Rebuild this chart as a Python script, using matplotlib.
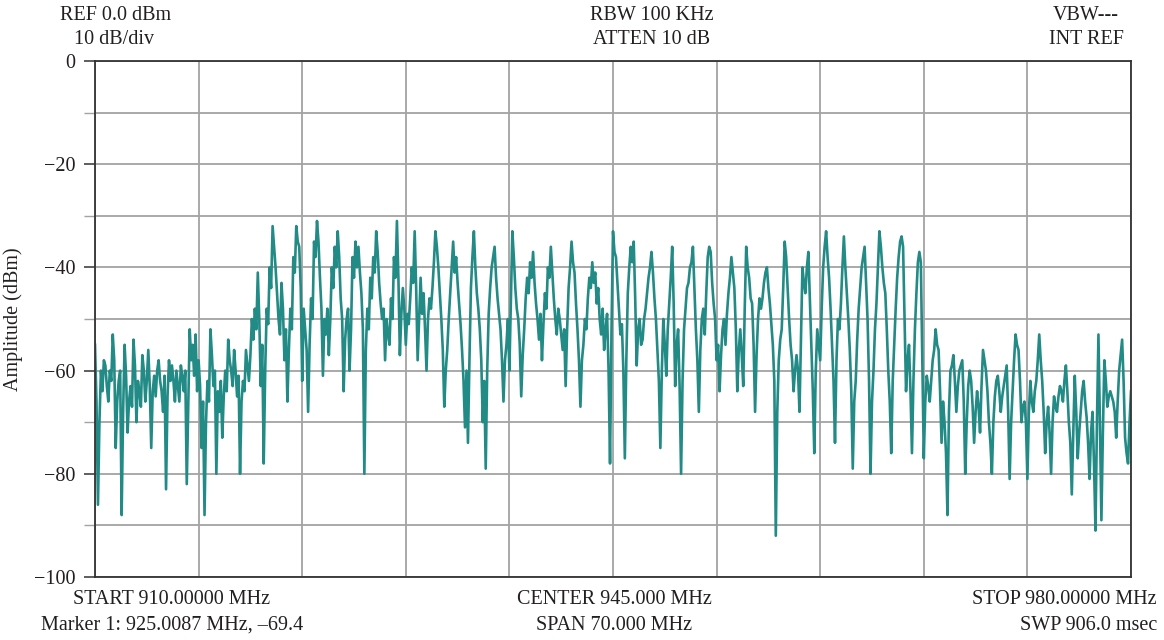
import numpy as np
import matplotlib
matplotlib.use("Agg")
import matplotlib.pyplot as plt
from matplotlib.ticker import MultipleLocator

START_MHZ = 910.0
STOP_MHZ = 980.0

# trace in dBm, even bins (0.2 MHz apart), one list per 7 MHz division
div_910_917 = [-55, -86, -60, -58, -63, -60, -53, -75, -62, -88,
               -55, -72, -63, -54, -70, -64, -57, -66, -56, -75,
               -61, -60, -62, -68, -83, -58, -59, -66, -63, -59,
               -64, -82, -52, -55, -53]
div_917_924 = [-58, -75, -88, -62, -52, -63, -80, -68, -73, -60,
               -54, -60, -56, -65, -80, -62, -56, -62, -50, -48,
               -41, -63, -78, -48, -40, -32, -40, -50, -43, -58,
               -66, -48, -38, -32, -36]
div_924_931 = [-62, -52, -68, -46, -35, -31, -42, -61, -53, -57,
               -40, -36, -33, -46, -64, -50, -60, -38, -35, -36,
               -45, -80, -48, -42, -38, -33, -43, -50, -58, -53,
               -46, -38, -31, -57, -44]
div_931_938 = [-55, -51, -40, -33, -58, -42, -45, -60, -46, -44,
               -33, -40, -50, -67, -56, -45, -35, -38, -47, -56,
               -71, -74, -44, -33, -45, -52, -70, -79, -49, -40,
               -36, -46, -52, -66, -55]
div_938_945 = [-60, -33, -44, -50, -65, -52, -42, -39, -37, -47,
               -54, -58, -45, -40, -36, -46, -53, -50, -56, -63,
               -44, -35, -41, -52, -67, -55, -52, -42, -39, -41,
               -44, -53, -56, -49, -78]
div_945_952 = [-33, -38, -48, -51, -77, -45, -36, -35, -59, -50,
               -54, -48, -42, -37, -46, -56, -75, -50, -61, -47,
               -36, -63, -52, -80, -52, -44, -40, -36, -52, -68,
               -50, -53, -38, -37, -47]
div_952_959 = [-58, -64, -52, -55, -45, -38, -44, -64, -52, -63,
               -36, -42, -47, -68, -50, -48, -43, -40, -47, -55,
               -92, -58, -52, -35, -44, -55, -64, -57, -68, -40,
               -45, -37, -55, -76, -52]
div_959_966 = [-58, -40, -33, -42, -55, -74, -50, -47, -34, -45,
               -56, -79, -62, -48, -40, -36, -50, -80, -60, -47,
               -33, -40, -45, -60, -76, -55, -42, -35, -36, -64,
               -55, -76, -52, -39, -39]
div_966_973 = [-77, -61, -66, -58, -52, -56, -74, -70, -88, -60,
               -57, -68, -60, -58, -80, -63, -62, -74, -64, -72,
               -56, -60, -70, -80, -65, -61, -68, -63, -59, -81,
               -64, -53, -56, -70, -66]
div_973_980 = [-81, -62, -68, -62, -53, -62, -76, -67, -80, -65,
               -68, -63, -66, -59, -70, -84, -61, -77, -68, -62,
               -69, -81, -68, -91, -53, -89, -58, -67, -64, -66,
               -73, -60, -54, -73, -78, -64]

# odd bins, halfway between the even ones
odd_910_917 = [-66, -70, -64, -59, -66, -62, -58, -66, -60, -68,
               -61, -66, -67, -59, -62, -67, -60, -62, -63, -64,
               -65, -58, -64, -61, -65, -62, -62, -60, -66, -61,
               -60, -67, -58, -61, -64]
odd_917_924 = [-63, -66, -70, -66, -57, -60, -64, -62, -65, -64,
               -58, -63, -60, -61, -66, -64, -59, -57, -54, -52,
               -50, -55, -60, -51, -44, -36, -45, -53, -48, -52,
               -56, -52, -41, -35, -44]
odd_924_931 = [-48, -56, -55, -50, -38, -35, -48, -50, -48, -50,
               -44, -40, -38, -50, -54, -48, -52, -42, -40, -41,
               -52, -56, -52, -46, -41, -37, -47, -48, -50, -55,
               -50, -42, -42, -49, -48]
odd_931_938 = [-49, -46, -43, -44, -50, -49, -52, -50, -48, -39,
               -36, -45, -56, -60, -50, -40, -41, -43, -51, -62,
               -60, -58, -38, -40, -48, -58, -62, -60, -44, -38,
               -42, -49, -58, -58, -50]
odd_938_945 = [-46, -38, -48, -55, -57, -46, -45, -42, -43, -50,
               -49, -51, -48, -42, -41, -50, -48, -53, -52, -52,
               -40, -39, -47, -58, -58, -50, -46, -44, -43, -47,
               -50, -48, -52, -60, -52]
odd_945_952 = [-37, -43, -53, -60, -58, -40, -39, -46, -52, -55,
               -50, -45, -40, -41, -50, -62, -60, -55, -52, -42,
               -47, -55, -63, -62, -48, -43, -39, -44, -58, -56,
               -48, -45, -36, -43, -50]
odd_952_959 = [-55, -57, -50, -49, -42, -41, -52, -56, -57, -48,
               -40, -46, -55, -57, -46, -46, -41, -44, -51, -62,
               -68, -54, -44, -38, -50, -58, -60, -60, -54, -43,
               -40, -46, -64, -60, -55]
odd_959_966 = [-48, -36, -38, -48, -62, -58, -52, -40, -40, -50,
               -64, -66, -54, -44, -38, -43, -62, -66, -52, -40,
               -36, -43, -52, -66, -62, -48, -38, -34, -50, -58,
               -64, -62, -45, -37, -58]
odd_966_973 = [-66, -63, -62, -56, -55, -64, -66, -76, -68, -59,
               -62, -63, -59, -66, -70, -60, -67, -68, -67, -63,
               -58, -64, -74, -70, -62, -64, -65, -61, -68, -70,
               -58, -55, -62, -67, -70]
odd_973_980 = [-68, -66, -64, -58, -58, -68, -70, -72, -70, -67,
               -65, -64, -62, -64, -74, -72, -68, -72, -64, -66,
               -74, -72, -78, -70, -70, -72, -62, -65, -65, -68,
               -66, -57, -62, -76, -70]

even_bins = np.concatenate([div_910_917, div_917_924, div_924_931, div_931_938,
                            div_938_945, div_945_952, div_952_959, div_959_966,
                            div_966_973, div_973_980])
odd_bins = np.concatenate([odd_910_917, odd_917_924, odd_924_931, odd_931_938,
                           odd_938_945, odd_945_952, odd_952_959, odd_959_966,
                           odd_966_973, odd_973_980])

trace_dbm = np.empty(len(even_bins) + len(odd_bins))
trace_dbm[0::2] = even_bins
trace_dbm[1::2] = odd_bins
freq_mhz = np.linspace(START_MHZ, STOP_MHZ, len(trace_dbm))

plt.rcParams["font.family"] = ["Liberation Serif", "DejaVu Serif"]
plt.rcParams["font.size"] = 14.5
TXT = "#231f20"
GRID = "#a3a3a3"
TRACE = "#238b86"

fig = plt.figure(figsize=(11.64, 6.40), dpi=100)
ax = fig.add_axes([95 / 1164, 63 / 640, 1036 / 1164, 516 / 640])

ax.plot(freq_mhz, trace_dbm, color=TRACE, lw=1.9)

ax.set_xlim(START_MHZ, STOP_MHZ)
ax.set_ylim(-100, 0)
ax.xaxis.set_major_locator(MultipleLocator(7))
ax.yaxis.set_minor_locator(MultipleLocator(10))
ax.set_yticks(range(-100, 1, 20))
ax.set_yticklabels([f"\u2212{abs(v):d}" if v < 0 else f"{v:d}"
                    for v in range(-100, 1, 20)])
ax.grid(True, which="both", color=GRID, lw=1.3)
ax.set_axisbelow(True)
ax.tick_params(axis="x", length=0, labelbottom=False)
ax.tick_params(axis="y", which="major", length=8, width=1.1, color="#333333",
               pad=6, labelcolor=TXT, labelsize=14.5)
ax.tick_params(axis="y", which="minor", length=8, width=1.0, color=GRID)
for side in ax.spines.values():
    side.set_color("#333333")
    side.set_linewidth(1.3)

ax.set_ylabel("Amplitude (dBm)", color=TXT, fontsize=14.5, labelpad=8)


def put(x, y, s, ha="center"):
    fig.text(x / 1164, 1 - y / 640, s, ha=ha, va="center", color=TXT, fontsize=14.5)


put(116, 15, "REF 0.0 dBm")
put(114, 40, "10 dB/div")
put(652, 15, "RBW 100 KHz")
put(652, 40, "ATTEN 10 dB")
put(1086, 15, "VBW---")
put(1086, 40, "INT REF")

put(172, 600, "START 910.00000 MHz")
put(172, 625, "Marker 1: 925.0087 MHz, \u201369.4")
put(614, 600, "CENTER 945.000 MHz")
put(614, 625, "SPAN 70.000 MHz")
put(1157, 600, "STOP 980.00000 MHz", ha="right")
put(1157, 625, "SWP 906.0 msec", ha="right")

fig.savefig("out.png", dpi=100)
